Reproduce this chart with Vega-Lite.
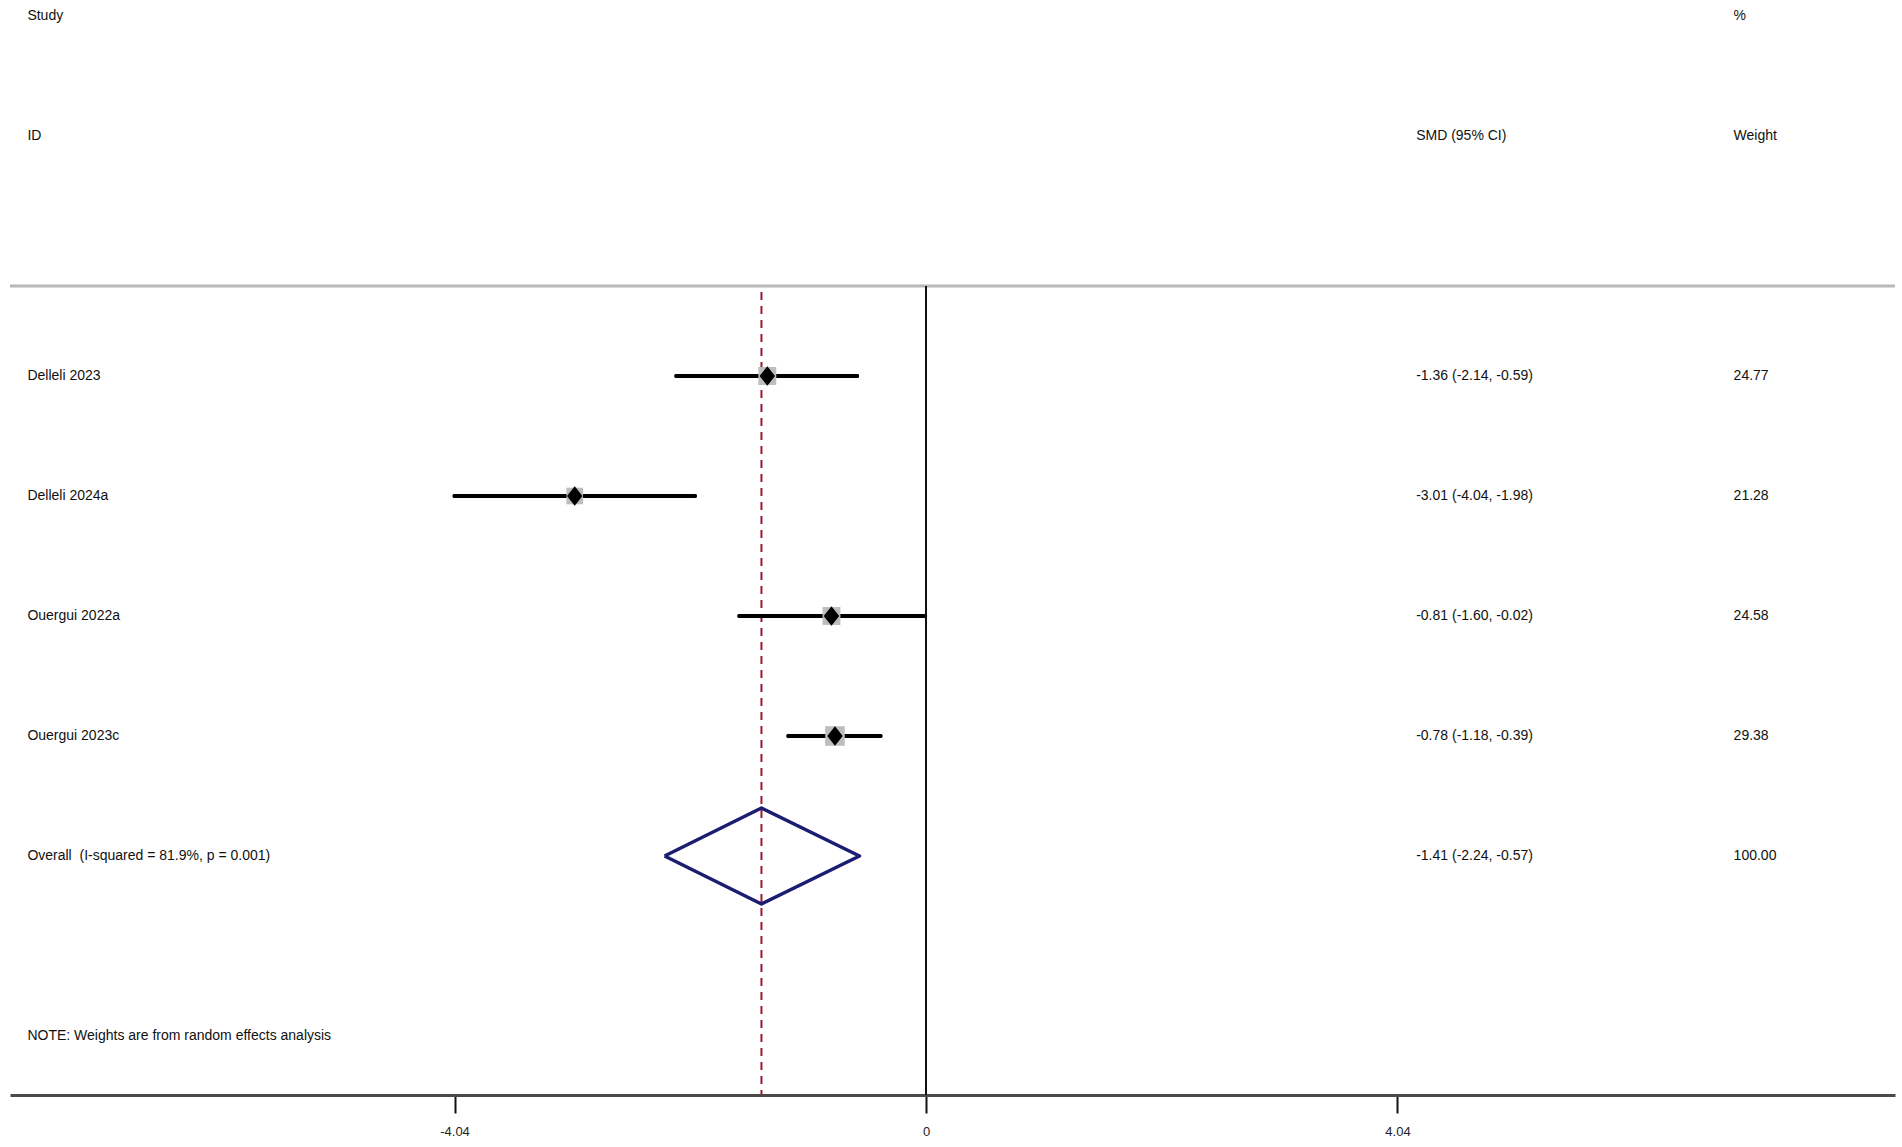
{
  "$schema": "https://vega.github.io/schema/vega-lite/v6.json",
  "width": 1885,
  "height": 1095,
  "padding": {"left": 8, "top": 0, "right": 9, "bottom": 0},
  "background": "white",
  "config": {
    "view": {"stroke": null},
    "text": {"font": "Liberation Sans", "fontSize": 14, "color": "#111"},
    "axisY": {"disable": true},
    "axisX": {
      "grid": false,
      "title": null,
      "domainColor": "#4a4a4a",
      "domainWidth": 3,
      "tickColor": "#111",
      "tickWidth": 2,
      "tickSize": 18,
      "labelFont": "Liberation Sans",
      "labelFontSize": 13,
      "labelColor": "#222",
      "labelPadding": 12
    }
  },
  "datasets": {
    "table": [
      {"row": -2, "label": "Study", "ci": "", "wt": "%"},
      {"row": -1, "label": "ID", "ci": "SMD (95% CI)", "wt": "Weight"},
      {"row": 1, "label": "Delleli 2023", "ci": "-1.36 (-2.14, -0.59)", "wt": "24.77"},
      {"row": 2, "label": "Delleli 2024a", "ci": "-3.01 (-4.04, -1.98)", "wt": "21.28"},
      {"row": 3, "label": "Ouergui 2022a", "ci": "-0.81 (-1.60, -0.02)", "wt": "24.58"},
      {"row": 4, "label": "Ouergui 2023c", "ci": "-0.78 (-1.18, -0.39)", "wt": "29.38"},
      {"row": 5, "label": "Overall \u00a0(I-squared = 81.9%, p = 0.001)", "ci": "-1.41 (-2.24, -0.57)", "wt": "100.00"},
      {"row": 6.5, "label": "NOTE: Weights are from random effects analysis", "ci": "", "wt": ""}
    ],
    "studies": [
      {"row": 1, "study": "Delleli 2023", "smd": -1.36, "lo": -2.14, "hi": -0.59, "weight": 24.77},
      {"row": 2, "study": "Delleli 2024a", "smd": -3.01, "lo": -4.04, "hi": -1.98, "weight": 21.28},
      {"row": 3, "study": "Ouergui 2022a", "smd": -0.81, "lo": -1.60, "hi": -0.02, "weight": 24.58},
      {"row": 4, "study": "Ouergui 2023c", "smd": -0.78, "lo": -1.18, "hi": -0.39, "weight": 29.38}
    ],
    "overall": [
      {"row": 5, "smd": -1.41, "lo": -2.24, "hi": -0.57, "weight": 100}
    ],
    "diamond": [
      {"o": 1, "vx": -2.24, "vy": 5},
      {"o": 2, "vx": -1.41, "vy": 4.6},
      {"o": 3, "vx": -0.57, "vy": 5},
      {"o": 4, "vx": -1.41, "vy": 5.4},
      {"o": 5, "vx": -2.24, "vy": 5}
    ]
  },
  "layer": [
    {
      "data": {"name": "studies"},
      "mark": {"type": "rule", "color": "#000", "strokeWidth": 4, "strokeCap": "round"},
      "encoding": {
        "x": {
          "field": "lo", "type": "quantitative",
          "scale": {"domain": [-7.849, 8.303], "nice": false, "zero": false},
          "axis": {
            "values": [-4.04, 0, 4.04],
            "labelExpr": "datum.value === 0 ? '0' : (datum.value < 0 ? '-' : '') + format(abs(datum.value), '.2f')"
          }
        },
        "x2": {"field": "hi"},
        "y": {"field": "row", "type": "quantitative", "scale": {"domain": [-2.1333, 6.9917], "reverse": true, "nice": false, "zero": false}}
      }
    },
    {
      "data": {"name": "overall"},
      "mark": {"type": "rule", "color": "#b8b8b8", "strokeWidth": 3},
      "encoding": {
        "y": {"datum": 0.25, "type": "quantitative"}
      }
    },
    {
      "data": {"name": "overall"},
      "mark": {"type": "rule", "color": "#111", "strokeWidth": 2},
      "encoding": {
        "x": {"datum": 0, "type": "quantitative"},
        "y": {"datum": 0.25, "type": "quantitative"},
        "y2": {"datum": 6.9917}
      }
    },
    {
      "data": {"name": "overall"},
      "mark": {"type": "rule", "color": "#9b1b2e", "strokeWidth": 2, "strokeDash": [8, 6]},
      "encoding": {
        "x": {"field": "smd", "type": "quantitative"},
        "y": {"datum": 0.3, "type": "quantitative"},
        "y2": {"datum": 6.9917}
      }
    },
    {
      "data": {"name": "studies"},
      "mark": {"type": "rule", "color": "#000", "strokeWidth": 4, "strokeCap": "round"},
      "encoding": {
        "x": {"field": "lo", "type": "quantitative"},
        "x2": {"field": "hi"},
        "y": {"field": "row", "type": "quantitative"}
      }
    },
    {
      "data": {"name": "studies"},
      "mark": {"type": "point", "shape": "square", "filled": true, "color": "#bdbdbd", "opacity": 1},
      "encoding": {
        "x": {"field": "smd", "type": "quantitative"},
        "y": {"field": "row", "type": "quantitative"},
        "size": {"field": "weight", "type": "quantitative", "scale": {"domain": [0, 30], "range": [0, 390]}, "legend": null}
      }
    },
    {
      "data": {"name": "studies"},
      "mark": {"type": "point", "shape": "M0,-1.25L1,0L0,1.25L-1,0Z", "filled": true, "color": "#000", "opacity": 1, "size": 240},
      "encoding": {
        "x": {"field": "smd", "type": "quantitative"},
        "y": {"field": "row", "type": "quantitative"}
      }
    },
    {
      "data": {"name": "diamond"},
      "mark": {"type": "line", "color": "#1c1c72", "strokeWidth": 3.5, "strokeJoin": "round"},
      "encoding": {
        "x": {"field": "vx", "type": "quantitative"},
        "y": {"field": "vy", "type": "quantitative"},
        "order": {"field": "o", "type": "quantitative"}
      }
    },
    {
      "data": {"name": "table"},
      "mark": {"type": "text", "align": "left", "baseline": "middle"},
      "encoding": {
        "x": {"datum": -7.70, "type": "quantitative"},
        "y": {"field": "row", "type": "quantitative"},
        "text": {"field": "label"}
      }
    },
    {
      "data": {"name": "table"},
      "mark": {"type": "text", "align": "left", "baseline": "middle"},
      "encoding": {
        "x": {"datum": 4.20, "type": "quantitative"},
        "y": {"field": "row", "type": "quantitative"},
        "text": {"field": "ci"}
      }
    },
    {
      "data": {"name": "table"},
      "mark": {"type": "text", "align": "left", "baseline": "middle"},
      "encoding": {
        "x": {"datum": 6.92, "type": "quantitative"},
        "y": {"field": "row", "type": "quantitative"},
        "text": {"field": "wt"}
      }
    }
  ]
}
